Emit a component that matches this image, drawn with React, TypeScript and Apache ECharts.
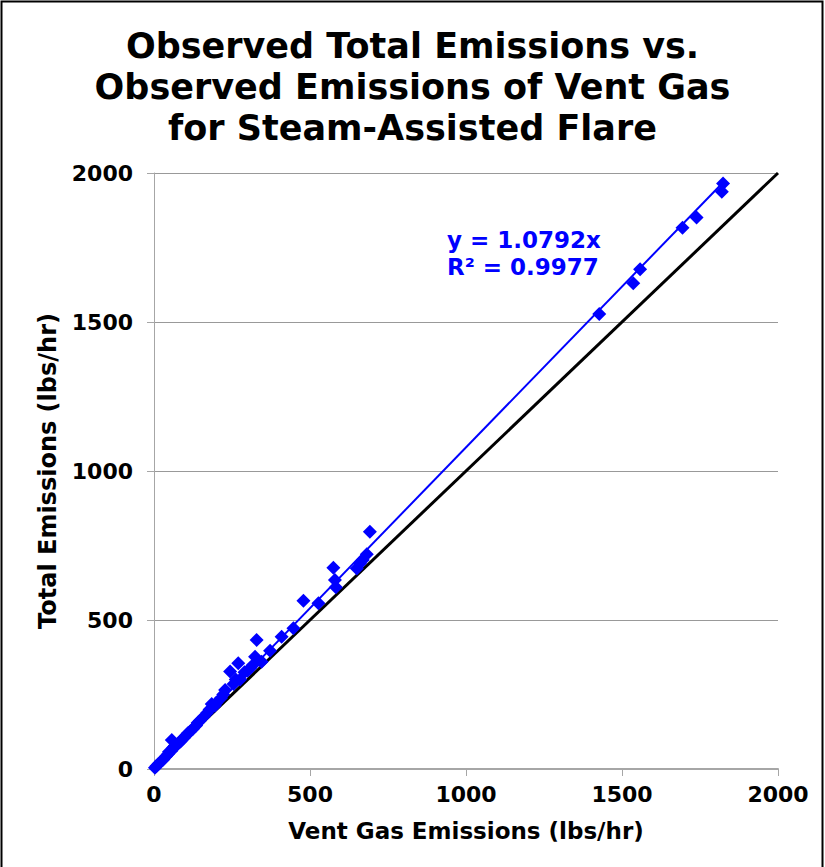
import React, { useEffect, useRef } from "react";
import * as echarts from "echarts";

const ventGas = [3, 8, 15, 22, 30, 38, 45, 55, 57, 67, 75, 85, 95, 105, 115, 125, 135, 147, 160, 170, 178, 185, 200, 222, 228, 244, 255, 270, 276, 290, 308, 318, 324, 329, 345, 372, 409, 447, 479, 527, 575, 580, 583, 650, 660, 669, 682, 692, 1427, 1536, 1558, 1694, 1739, 1820, 1824, 48, 62, 90, 110, 140, 195, 215, 262, 300];
const totalEmissions = [4, 10, 18, 25, 32, 42, 50, 60, 97, 78, 82, 92, 103, 115, 125, 135, 146, 162, 176, 188, 200, 218, 222, 250, 265, 327, 285, 355, 300, 325, 338, 350, 377, 433, 360, 397, 444, 472, 565, 556, 675, 634, 610, 673, 690, 701, 721, 796, 1527, 1630, 1677, 1816, 1851, 1937, 1965, 58, 72, 100, 122, 155, 212, 238, 300, 330];
const trendSlope = 1.0792;
const trendR2 = 0.9977;
const trendXMax = 1830;
const axisTicks = [0, 500, 1000, 1500, 2000];

const titleLines = [
  "Observed Total Emissions vs.",
  "Observed Emissions of Vent Gas",
  "for Steam-Assisted Flare",
];

export default function App() {
  const ref = useRef<HTMLDivElement>(null);
  useEffect(() => {
    document.body.style.margin = "0";
    const chart = echarts.init(ref.current!, null, { renderer: "svg" });
    const font = "'DejaVu Sans', Verdana, sans-serif";
    const points = ventGas.map((x, i) => [x, totalEmissions[i]]);
    chart.setOption({
      animation: false,
      backgroundColor: "#ffffff",
      title: {
        text: titleLines.join("\n"),
        left: "center",
        top: 20,
        textStyle: {
          fontFamily: font,
          fontWeight: "bold",
          fontSize: 35,
          lineHeight: 41,
          color: "#000",
        },
      },
      graphic: [
        {
          type: "rect",
          shape: { x: 1.5, y: 1.5, width: 821, height: 900 },
          style: { fill: "none", stroke: "#000", lineWidth: 2 },
          silent: true,
        },
        {
          type: "text",
          left: 447,
          top: 226,
          style: {
            text: `y = ${trendSlope}x\nR² = ${trendR2}`,
            fontFamily: font,
            fontWeight: "bold",
            fontSize: 23,
            lineHeight: 27,
            fill: "#0000FF",
          },
        },
      ],
      grid: { left: 154, right: 47, top: 173, bottom: 98 },
      xAxis: {
        type: "value",
        min: axisTicks[0],
        max: axisTicks[axisTicks.length - 1],
        interval: 500,
        name: "Vent Gas Emissions (lbs/hr)",
        nameLocation: "middle",
        nameGap: 50,
        nameTextStyle: { fontFamily: font, fontWeight: "bold", fontSize: 23, color: "#000" },
        axisLine: { show: true, lineStyle: { color: "#A6A6A6", width: 2 } },
        axisTick: { show: true, length: 7, lineStyle: { color: "#A6A6A6", width: 1 } },
        axisLabel: {
          fontFamily: font, fontWeight: "bold", fontSize: 22, color: "#000", margin: 14,
          formatter: (v: number) => String(v),
        },
        splitLine: { show: false },
      },
      yAxis: {
        type: "value",
        min: axisTicks[0],
        max: axisTicks[axisTicks.length - 1],
        interval: 500,
        name: "Total Emissions (lbs/hr)",
        nameLocation: "middle",
        nameGap: 94,
        nameRotate: 90,
        nameTextStyle: { fontFamily: font, fontWeight: "bold", fontSize: 24, color: "#000" },
        axisLine: { show: true, lineStyle: { color: "#A6A6A6", width: 1 } },
        axisTick: { show: true, length: 7, lineStyle: { color: "#A6A6A6", width: 1 } },
        axisLabel: {
          fontFamily: font, fontWeight: "bold", fontSize: 22, color: "#000", margin: 21,
          formatter: (v: number) => String(v),
        },
        splitLine: { show: true, lineStyle: { color: "#999999", width: 1 } },
      },
      series: [
        {
          type: "line",
          name: "1:1",
          data: [[axisTicks[0], axisTicks[0]], [axisTicks[4], axisTicks[4]]],
          symbol: "none",
          lineStyle: { color: "#000", width: 3 },
          z: 2,
        },
        {
          type: "line",
          name: "trend",
          data: [[0, 0], [trendXMax, trendSlope * trendXMax]],
          symbol: "none",
          lineStyle: { color: "#0000FF", width: 2 },
          z: 3,
        },
        {
          type: "scatter",
          name: "data",
          data: points,
          symbol: "diamond",
          symbolSize: 14,
          itemStyle: { color: "#0000FF", opacity: 1 },
          z: 4,
        },
      ],
    });
    return () => chart.dispose();
  }, []);
  return <div ref={ref} style={{ width: 825, height: 867 }} />;
}
